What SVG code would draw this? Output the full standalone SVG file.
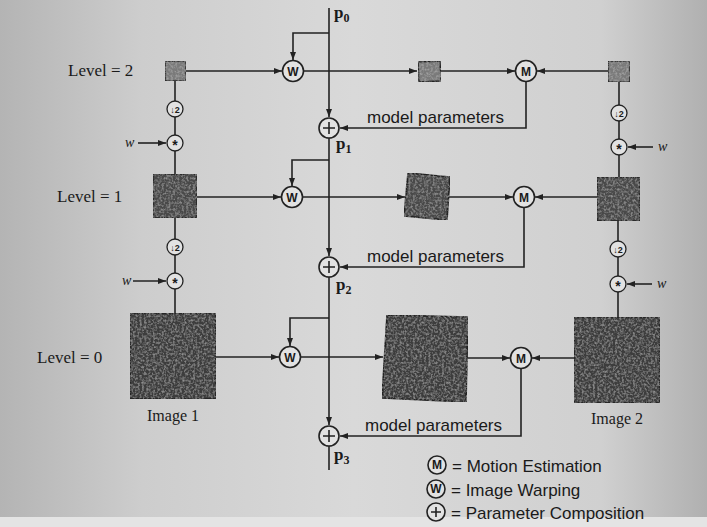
<svg xmlns="http://www.w3.org/2000/svg" width="707" height="527" viewBox="0 0 707 527">
<defs>
<linearGradient id="bg" x1="0" y1="0" x2="1" y2="0">
<stop offset="0" stop-color="#b4b4b4"/>
<stop offset="0.2" stop-color="#cdcdcd"/>
<stop offset="0.5" stop-color="#d9d9d9"/>
<stop offset="0.85" stop-color="#d0d0d0"/>
<stop offset="1" stop-color="#b0b0b0"/>
</linearGradient>
<filter id="noise" x="0" y="0" width="1" height="1">
<feTurbulence type="fractalNoise" baseFrequency="0.45" numOctaves="2" seed="3" result="t"/>
<feColorMatrix in="t" type="matrix" values="0 0 0 0 0.62  0 0 0 0 0.62  0 0 0 0 0.62  0.9 0 0 0 -0.38" result="n"/>
<feComposite in="n" in2="SourceGraphic" operator="in" result="m"/>
<feMerge><feMergeNode in="SourceGraphic"/><feMergeNode in="m"/></feMerge>
</filter>
<marker id="ar" viewBox="0 0 8 6" refX="8" refY="3" markerWidth="8" markerHeight="6" markerUnits="userSpaceOnUse" orient="auto">
<path d="M0,0 L8,3 L0,6 z" fill="#222"/>
</marker>
<style>
.ln{fill:none;stroke:#222;stroke-width:1.6}
.ci{fill:#e2e2e2;stroke:#222;stroke-width:1.6}
.sm{fill:#e2e2e2;stroke:#222;stroke-width:1.3}
.img{fill:#3e3e3e;stroke:#222;stroke-width:1.6;filter:url(#noise)}
.simg{fill:#7a7a7a;stroke:#222;stroke-width:1.4;filter:url(#noise)}
.ser{font-family:"Liberation Serif","Times New Roman",serif;fill:#1a1a1a}
.san{font-family:"Liberation Sans",Arial,sans-serif;fill:#1a1a1a}
.lv{font-size:17px}
.mp{font-size:17px}
.cl{font-family:"Liberation Sans",Arial,sans-serif;font-size:12px;font-weight:bold;fill:#1a1a1a;text-anchor:middle}
.dn{font-family:"Liberation Sans",Arial,sans-serif;font-size:9px;font-weight:bold;fill:#1a1a1a;text-anchor:middle}
.st{font-family:"Liberation Sans",Arial,sans-serif;font-size:14px;font-weight:bold;fill:#1a1a1a;text-anchor:middle}
.pl{font-family:"Liberation Serif","Times New Roman",serif;font-size:17px;font-weight:bold;fill:#1a1a1a}
.w{font-family:"Liberation Serif","Times New Roman",serif;font-size:14px;font-style:italic;fill:#1a1a1a}
</style>
</defs>
<rect width="707" height="527" fill="url(#bg)"/>
<rect y="517" width="707" height="10" fill="#e4e4e4"/>

<g id="connectors">
<path class="ln" d="M329,8 V117" marker-end="url(#ar)"/>
<path class="ln" d="M329,138 V256" marker-end="url(#ar)"/>
<path class="ln" d="M329,277 V425" marker-end="url(#ar)"/>
<path class="ln" d="M329,446 V470"/>
<path class="ln" d="M329,33 H293 V60" marker-end="url(#ar)"/>
<path class="ln" d="M329,160 H292 V186" marker-end="url(#ar)"/>
<path class="ln" d="M329,318 H290 V346" marker-end="url(#ar)"/>
<path class="ln" d="M186,71 H282" marker-end="url(#ar)"/>
<path class="ln" d="M304,71 H417" marker-end="url(#ar)"/>
<path class="ln" d="M441,71 H515" marker-end="url(#ar)"/>
<path class="ln" d="M608,71 H537" marker-end="url(#ar)"/>
<path class="ln" d="M197,197 H281" marker-end="url(#ar)"/>
<path class="ln" d="M303,197 H405" marker-end="url(#ar)"/>
<path class="ln" d="M449,197 H513" marker-end="url(#ar)"/>
<path class="ln" d="M597,197 H535" marker-end="url(#ar)"/>
<path class="ln" d="M216,357 H279" marker-end="url(#ar)"/>
<path class="ln" d="M301,357 H383" marker-end="url(#ar)"/>
<path class="ln" d="M467,358 H510" marker-end="url(#ar)"/>
<path class="ln" d="M574,358 H532" marker-end="url(#ar)"/>
<path class="ln" d="M526,82 V128 H340" marker-end="url(#ar)"/>
<path class="ln" d="M524,208 V267 H340" marker-end="url(#ar)"/>
<path class="ln" d="M521,369 V436 H340" marker-end="url(#ar)"/>
<path class="ln" d="M175,313 V289 M175,273 V255 M175,239 V218 M175,174 V151 M175,135 V117 M175,101 V81"/>
<path class="ln" d="M133,281 H166" marker-end="url(#ar)"/>
<path class="ln" d="M138,143 H166" marker-end="url(#ar)"/>
<path class="ln" d="M618,317 V292 M618,276 V257 M618,241 V221 M619,177 V155 M619,139 V121 M619,105 V82"/>
<path class="ln" d="M652,284 H627" marker-end="url(#ar)"/>
<path class="ln" d="M653,147 H628" marker-end="url(#ar)"/>
</g>

<g id="labels">
<text class="ser lv" x="68" y="76">Level = 2</text>
<text class="ser lv" x="57" y="202">Level = 1</text>
<text class="ser lv" x="37" y="363">Level = 0</text>
<text class="pl" x="334" y="18">p<tspan font-size="12" dy="4">0</tspan></text>
<text class="pl" x="336" y="149">p<tspan font-size="12" dy="4">1</tspan></text>
<text class="pl" x="336" y="290">p<tspan font-size="12" dy="4">2</tspan></text>
<text class="pl" x="334" y="460">p<tspan font-size="12" dy="4">3</tspan></text>
<text class="san mp" x="367" y="123">model parameters</text>
<text class="san mp" x="367" y="262">model parameters</text>
<text class="san mp" x="365" y="431">model parameters</text>
<text class="w" x="125" y="147">w</text>
<text class="w" x="122" y="285">w</text>
<text class="w" x="658" y="151">w</text>
<text class="w" x="657" y="288">w</text>
</g>

<g id="image1-level2"><rect class="simg" x="165" y="61" width="21" height="20"/></g>
<g id="image1-level1"><rect class="img" x="153" y="174" width="44" height="44" style="fill:#4a4a4a"/></g>
<g id="image1-level0"><rect class="img" x="130" y="313" width="86" height="86"/>
<text class="ser" x="173" y="421" font-size="16" text-anchor="middle">Image 1</text></g>

<g id="image2-level2"><rect class="simg" x="608" y="61" width="22" height="21"/></g>
<g id="image2-level1"><rect class="img" x="597" y="177" width="43" height="44" style="fill:#4a4a4a"/></g>
<g id="image2-level0"><rect class="img" x="574" y="317" width="86" height="86"/>
<text class="ser" x="617" y="424" font-size="16" text-anchor="middle">Image 2</text></g>

<g id="warped-level2"><polygon class="simg" points="418,62 440,61 441,81 419,82"/></g>
<g id="warped-level1"><polygon class="img" points="408,173 450,177 447,220 404,216" style="fill:#4a4a4a"/></g>
<g id="warped-level0"><polygon class="img" points="387,315 468,317 466,402 382,398"/></g>

<g id="W2"><circle class="ci" cx="293" cy="71" r="10.5"/><text class="cl" x="293" y="75.5">W</text></g>
<g id="W1"><circle class="ci" cx="292" cy="197" r="10.5"/><text class="cl" x="292" y="201.5">W</text></g>
<g id="W0"><circle class="ci" cx="290" cy="357" r="10.5"/><text class="cl" x="290" y="361.5">W</text></g>
<g id="M2"><circle class="ci" cx="526" cy="71" r="10.5"/><text class="cl" x="526" y="75.5">M</text></g>
<g id="M1"><circle class="ci" cx="524" cy="197" r="10.5"/><text class="cl" x="524" y="201.5">M</text></g>
<g id="M0"><circle class="ci" cx="521" cy="358" r="10.5"/><text class="cl" x="521" y="362.5">M</text></g>

<g id="P1"><circle class="ci" cx="329" cy="128" r="10"/><path class="ln" d="M323,128 H335 M329,122 V134" stroke-width="1.3"/></g>
<g id="P2"><circle class="ci" cx="329" cy="267" r="10"/><path class="ln" d="M323,267 H335 M329,261 V273" stroke-width="1.3"/></g>
<g id="P3"><circle class="ci" cx="329" cy="436" r="10"/><path class="ln" d="M323,436 H335 M329,430 V442" stroke-width="1.3"/></g>

<g id="down-L2"><circle class="sm" cx="175" cy="109" r="8"/><text class="dn" x="175" y="112.5">↓2</text></g>
<g id="conv-L2"><circle class="sm" cx="175" cy="143" r="8"/><text class="st" x="175" y="150">*</text></g>
<g id="down-L1"><circle class="sm" cx="175" cy="247" r="8"/><text class="dn" x="175" y="250.5">↓2</text></g>
<g id="conv-L1"><circle class="sm" cx="175" cy="281" r="8"/><text class="st" x="175" y="288">*</text></g>
<g id="down-R2"><circle class="sm" cx="619" cy="113" r="8"/><text class="dn" x="619" y="116.5">↓2</text></g>
<g id="conv-R2"><circle class="sm" cx="619" cy="147" r="8"/><text class="st" x="619" y="154">*</text></g>
<g id="down-R1"><circle class="sm" cx="618" cy="249" r="8"/><text class="dn" x="618" y="252.5">↓2</text></g>
<g id="conv-R1"><circle class="sm" cx="618" cy="284" r="8"/><text class="st" x="618" y="291">*</text></g>

<g id="legend">
<circle class="ci" cx="437" cy="465" r="9"/><text class="cl" x="437" y="469" font-size="11">M</text>
<text class="san mp" x="452" y="472">= Motion Estimation</text>
<circle class="ci" cx="436" cy="489" r="9"/><text class="cl" x="436" y="493" font-size="11">W</text>
<text class="san mp" x="451" y="496">= Image Warping</text>
<circle class="ci" cx="436" cy="512" r="9"/><path class="ln" d="M431,512 H441 M436,507 V517" stroke-width="1.3"/>
<text class="san mp" x="451" y="519">= Parameter Composition</text>
</g>
</svg>
